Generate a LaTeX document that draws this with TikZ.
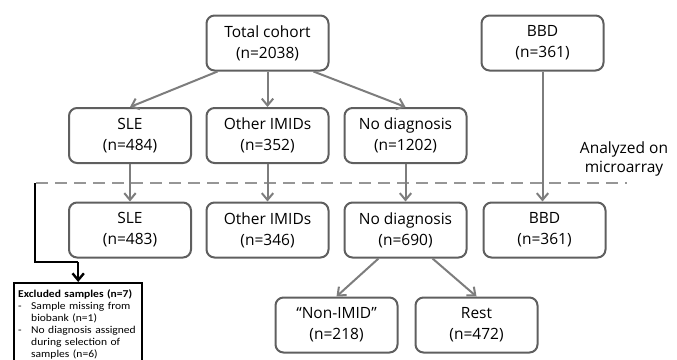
\documentclass[tikz,border=0pt]{standalone}
\usepackage{fontspec}
\setmainfont{Open Sans}
\newfontfamily\smallfam[FakeStretch=1.1]{Carlito}
\usepackage{xcolor}
\usepackage{tikz}
\usetikzlibrary{arrows.meta,positioning,calc}

\definecolor{boxgray}{RGB}{95,95,95}
\definecolor{arrgray}{RGB}{125,125,125}
\definecolor{cutgray}{RGB}{150,150,150}

\begin{document}
\begin{tikzpicture}[x=1pt,y=-1pt,
  box/.style={draw=boxgray,line width=2pt,rounded corners=8pt,
    minimum width=122pt,minimum height=55pt,inner sep=0pt,align=center,
    font=\fontsize{15.5}{21}\selectfont},
  flow/.style={draw=arrgray,line width=2pt,
    -{Straight Barb[length=2.4mm,width=4mm,line width=2pt]}},
  exclflow/.style={draw=black,line width=2.4pt,
    -{Straight Barb[length=2.4mm,width=4mm,line width=2.4pt]}}]
  \useasboundingbox (0,0) rectangle (677,359);
  % top row
  \node[box] (total) at (267.5,43) {Total cohort\\(n=2038)};
  \node[box] (bbdall) at (542.5,43) {BBD\\(n=361)};
  % after diagnosis
  \node[box] (sleall) at (130,135.5) {SLE\\(n=484)};
  \node[box] (othall) at (267.5,135.5) {Other IMIDs\\(n=352)};
  \node[box] (nodall) at (405.5,135.5) {No diagnosis\\(n=1202)};
  % analyzed on microarray
  \node[box] (sle) at (130,230) {SLE\\(n=483)};
  \node[box] (oth) at (267.5,230) {Other IMIDs\\(n=346)};
  \node[box] (nod) at (405.5,230) {No diagnosis\\(n=690)};
  \node[box] (bbd) at (544.5,230) {BBD\\(n=361)};
  \node[box] (nonimid) at (336.5,325) {``Non-IMID''\\(n=218)};
  \node[box] (rest) at (476.5,325) {Rest\\(n=472)};
  \node[align=center,font=\fontsize{15.5}{19}\selectfont] (analyzed) at (624,159)
    {Analyzed on\\microarray};
  % cut line
  \coordinate (cutL) at (36,183);
  \coordinate (cutR) at (627,183);
  \draw[cutgray,line width=2pt,dash pattern=on 12pt off 7pt] (cutL) -- (cutR);
  % excluded
  \node[draw=black,line width=2.4pt,anchor=north west,text width=120pt,
    minimum height=82pt,inner xsep=4pt,inner ysep=4pt,align=left,
    font=\smallfam\fontsize{10.5}{12}\selectfont] (excl) at (13,282)
    {\textbf{Excluded samples (n=7)}\\
     \makebox[13pt][l]{-}Sample missing from\\
     \hspace*{13pt}biobank (n=1)\\
     \makebox[13pt][l]{-}No diagnosis assigned\\
     \hspace*{13pt}during selection of\\
     \hspace*{13pt}samples (n=6)\\[14pt]};
  \coordinate (bend) at (35,262);
  \draw[black,line width=2.4pt] (35,183) -- (bend) -- (excl.north |- bend);
  \draw[exclflow] (excl.north |- bend) -- (excl.north);
  % arrows
  \draw[flow] ([xshift=-50pt]total.south) -- (sleall.north);
  \draw[flow] (total.south) -- (othall.north);
  \draw[flow] ([xshift=46pt]total.south) -- (nodall.north);
  \draw[flow] (sleall) -- (sle);
  \draw[flow] (othall) -- (oth);
  \draw[flow] (nodall) -- (nod);
  \draw[flow] (bbdall.south) -- (bbdall.south |- bbd.north);
  \draw[flow] ([xshift=-27pt]nod.south) -- (nonimid.north);
  \draw[flow] ([xshift=27pt]nod.south) -- (rest.north);
\end{tikzpicture}
\end{document}
